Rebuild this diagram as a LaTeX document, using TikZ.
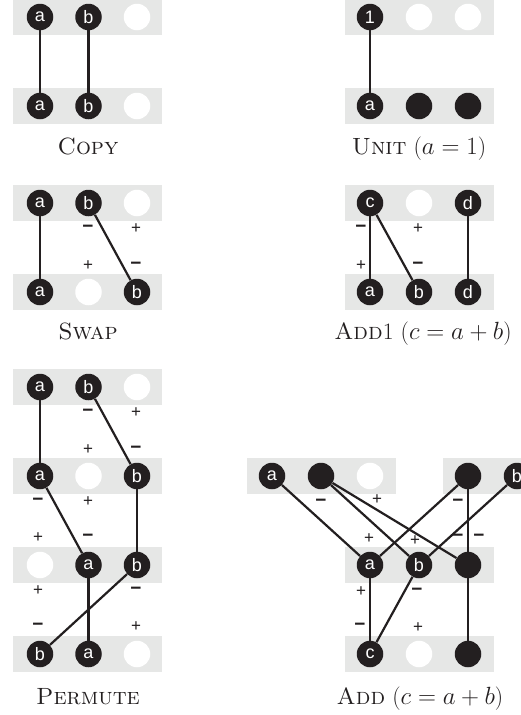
\documentclass[tikz,border=0pt]{standalone}
\usepackage{fontspec}
\newfontfamily\circfont{Liberation Sans}
\definecolor{bandgray}{HTML}{E6E7E6}
\definecolor{dotblack}{HTML}{231F20}
\begin{document}
\begin{tikzpicture}[x=1pt,y=-1pt,
  bandfill/.style={fill=bandgray, draw=none},
  fulldot/.style={circle, fill=dotblack, text=white, minimum size=26.5pt, inner sep=0pt, font=\circfont\fontsize{18}{18}\selectfont},
  holedot/.style={circle, fill=white, minimum size=26.5pt, inner sep=0pt},
  wire/.style={line width=2.2pt, draw=dotblack},
  sgnplus/.style={font=\circfont\fontsize{17}{17}\selectfont, inner sep=0pt, text=dotblack},
  sgnminus/.style={font=\circfont\bfseries\fontsize{19}{19}\selectfont, inner sep=0pt, text=dotblack},
  lbltext/.style={font=\fontsize{23.5}{27}\selectfont, text=dotblack, anchor=base, inner sep=0pt}
]
\clip (0,0) rectangle (521,715);
\fill[white] (0,0) rectangle (521,715);
% ---------- COPY ----------
\fill[bandfill] (13,-1) rectangle (162,35);
\fill[bandfill] (13,88) rectangle (162,124);
\node[fulldot] (ca1) at (40,17) {a};
\node[fulldot] (cb1) at (88.5,17) {b};
\node[holedot] (ce1) at (137,17) {};
\node[fulldot] (ca2) at (40,106) {a};
\node[fulldot] (cb2) at (88.5,106) {b};
\node[holedot] (ce2) at (137,106) {};
\draw[wire] (ca1) -- (ca2);
\draw[wire] (cb1) -- (cb2);
\node[lbltext] (copylbl) at (88,154) {\textsc{Copy}};
% ---------- UNIT ----------
\fill[bandfill] (345,-1) rectangle (494,35);
\fill[bandfill] (345,88) rectangle (494,124);
\node[fulldot] (u1) at (370,17) {1};
\node[holedot] (ue1) at (419,17) {};
\node[holedot] (ue2) at (468,17) {};
\node[fulldot] (ua) at (370,106) {a};
\node[fulldot] (uk1) at (419,106) {};
\node[fulldot] (uk2) at (468,106) {};
\draw[wire] (u1) -- (ua);
\node[lbltext] (unitlbl) at (419,154) {\textsc{Unit} ($a = 1$)};
% ---------- SWAP ----------
\fill[bandfill] (13,185) rectangle (162,221);
\fill[bandfill] (13,274) rectangle (162,310);
\node[fulldot] (sa1) at (40,203) {a};
\node[fulldot] (sb1) at (88.5,203) {b};
\node[holedot] (se1) at (137,203) {};
\node[fulldot] (sa2) at (40,292) {a};
\node[holedot] (se2) at (88.5,292) {};
\node[fulldot] (sb2) at (137,292) {b};
\draw[wire] (sa1) -- (sa2);
\draw[wire] (sb1) -- (sb2);
\node[sgnminus] (sm1) at (88,229) {−};
\node[sgnplus] (sp1) at (136,229) {+};
\node[sgnplus] (sp2) at (88,266) {+};
\node[sgnminus] (sm2) at (136,266) {−};
\node[lbltext] (swaplbl) at (88,339) {\textsc{Swap}};
% ---------- ADD1 ----------
\fill[bandfill] (345,185) rectangle (494,221);
\fill[bandfill] (345,274) rectangle (494,310);
\node[fulldot] (dc) at (370,203) {c};
\node[holedot] (de) at (419,203) {};
\node[fulldot] (dd1) at (468,203) {d};
\node[fulldot] (da) at (370,292) {a};
\node[fulldot] (db) at (419,292) {b};
\node[fulldot] (dd2) at (468,292) {d};
\draw[wire] (dc) -- (da);
\draw[wire] (dc) -- (db);
\draw[wire] (dd1) -- (dd2);
\node[sgnminus] (dm1) at (361,229) {−};
\node[sgnplus] (dp1) at (418,229) {+};
\node[sgnplus] (dp2) at (361,266) {+};
\node[sgnminus] (dm2) at (418,266) {−};
\node[lbltext] (add1lbl) at (423,339) {\textsc{Add}1 ($c = a + b$)};
% ---------- PERMUTE ----------
\fill[bandfill] (13,369) rectangle (162,405);
\fill[bandfill] (13,458) rectangle (162,494);
\fill[bandfill] (13,547) rectangle (162,583);
\fill[bandfill] (13,636) rectangle (162,672);
\node[fulldot] (pa1) at (40,387) {a};
\node[fulldot] (pb1) at (88.5,387) {b};
\node[holedot] (pe1) at (137,387) {};
\node[fulldot] (pa2) at (40,476) {a};
\node[holedot] (pe2) at (88.5,476) {};
\node[fulldot] (pb2) at (137,476) {b};
\node[holedot] (pe3) at (40,565) {};
\node[fulldot] (pa3) at (88.5,565) {a};
\node[fulldot] (pb3) at (137,565) {b};
\node[fulldot] (pb4) at (40,654) {b};
\node[fulldot] (pa4) at (88.5,654) {a};
\node[holedot] (pe4) at (137,654) {};
\draw[wire] (pa1) -- (pa2);
\draw[wire] (pb1) -- (pb2);
\draw[wire] (pa2) -- (pa3);
\draw[wire] (pb2) -- (pb3);
\draw[wire] (pa3) -- (pa4);
\draw[wire] (pb3) -- (pb4);
\node[sgnminus] (pm1) at (88,413) {−};
\node[sgnplus] (pp1) at (136,413) {+};
\node[sgnplus] (pp2) at (88,450) {+};
\node[sgnminus] (pm2) at (136,450) {−};
\node[sgnminus] (pm3) at (38,502) {−};
\node[sgnplus] (pp3) at (88,502) {+};
\node[sgnplus] (pp4) at (38,538) {+};
\node[sgnminus] (pm4) at (88,538) {−};
\node[sgnplus] (pp5) at (38,591) {+};
\node[sgnminus] (pm5) at (136,591) {−};
\node[sgnminus] (pm6) at (38,627) {−};
\node[sgnplus] (pp6) at (136,627) {+};
\node[lbltext] (permlbl) at (88,704) {\textsc{Permute}};
% ---------- ADD ----------
\fill[bandfill] (247,458) rectangle (396,494);
\fill[bandfill] (443,458) rectangle (592,494);
\fill[bandfill] (345,547) rectangle (494,583);
\fill[bandfill] (345,636) rectangle (494,672);
\node[fulldot] (aa1) at (272,476) {a};
\node[fulldot] (ak1) at (321,476) {};
\node[holedot] (ae1) at (370,476) {};
\node[fulldot] (ak2) at (468,476) {};
\node[fulldot] (ab1) at (517,476) {b};
\node[fulldot] (ra) at (370,565) {a};
\node[fulldot] (rb) at (419,565) {b};
\node[fulldot] (rk) at (468,565) {};
\node[fulldot] (rc) at (370,654) {c};
\node[holedot] (re) at (419,654) {};
\node[fulldot] (rk2) at (468,654) {};
\draw[wire] (aa1) -- (ra);
\draw[wire] (ak1) -- (rb);
\draw[wire] (ak1) -- (rk);
\draw[wire] (ak2) -- (ra);
\draw[wire] (ak2) -- (rk);
\draw[wire] (ab1) -- (rb);
\draw[wire] (ra) -- (rc);
\draw[wire] (rb) -- (rc);
\draw[wire] (rk) -- (rk2);
\node[sgnminus] (am1) at (321,503) {−};
\node[sgnplus] (ap1) at (377,500) {+};
\node[sgnminus] (am2) at (458,503) {−};
\node[sgnplus] (ap2) at (369,539) {+};
\node[sgnplus] (ap3) at (415,541) {+};
\node[sgnminus] (am3) at (458,538) {−};
\node[sgnminus] (am4) at (479,538) {−};
\node[sgnplus] (ap4) at (361,592) {+};
\node[sgnminus] (am5) at (417,592) {−};
\node[sgnminus] (am6) at (360,627) {−};
\node[sgnplus] (ap5) at (418,628) {+};
\node[lbltext] (addlbl) at (420,704) {\textsc{Add} ($c = a + b$)};
\end{tikzpicture}
\end{document}
